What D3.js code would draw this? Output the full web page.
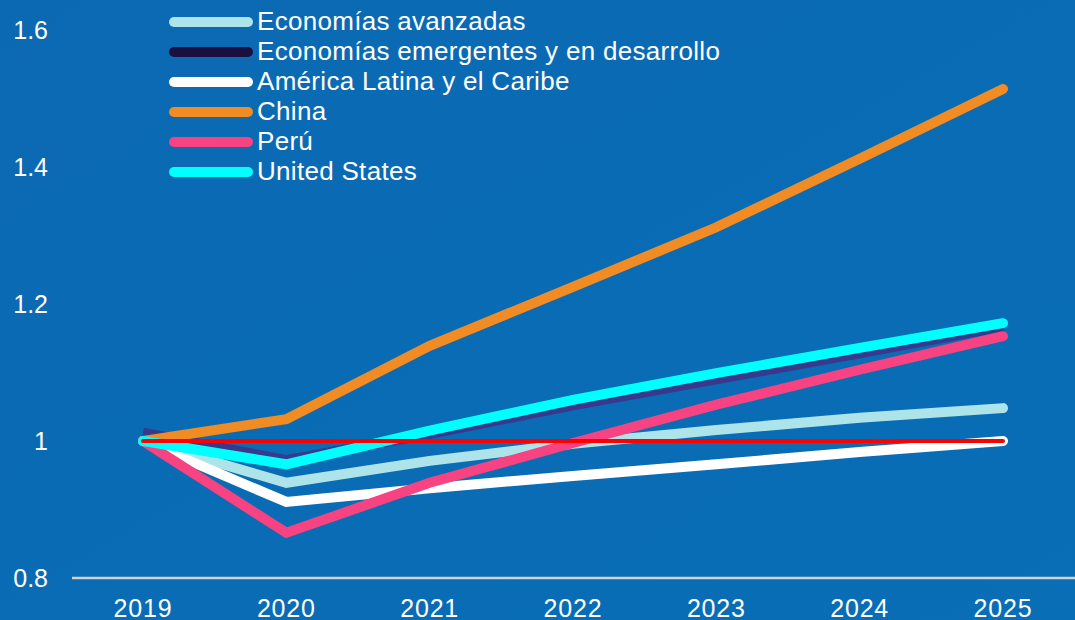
<!DOCTYPE html>
<html>
<head>
<meta charset="utf-8">
<script src="https://cdn.jsdelivr.net/npm/d3@7"></script>
<style>
  body { margin: 0; background: #0a6bb3; }
  svg { display: block; font-family: "Liberation Sans", Arial, Helvetica, sans-serif; }
</style>
</head>
<body>
<div id="chart"></div>
<script>
/* datos del grafico */
var years = ["2019", "2020", "2021", "2022", "2023", "2024", "2025"];
var yTicks = [0.8, 1, 1.2, 1.4, 1.6];

var avanzadas  = [1.000, 0.939, 0.971, 0.996, 1.016, 1.034, 1.048];
var emergentes = [1.012, 0.972, 1.010, 1.052, 1.090, 1.128, 1.167];
var latam      = [1.000, 0.911, 0.931, 0.949, 0.966, 0.984, 1.000];
var china      = [1.000, 1.032, 1.139, 1.225, 1.312, 1.412, 1.514];
var peru       = [1.000, 0.866, 0.939, 0.997, 1.053, 1.104, 1.153];
var usa        = [1.000, 0.966, 1.015, 1.060, 1.099, 1.136, 1.172];
var base       = [1, 1, 1, 1, 1, 1, 1];

var seriesNames = ["Economías avanzadas", "Economías emergentes y en desarrollo",
                   "América Latina y el Caribe", "China", "Perú", "United States"];
var seriesValues = [avanzadas, emergentes, latam, china, peru, usa];
var legendColors = ["#ade4ea", "#1a1040", "#ffffff", "#f08c23", "#f74382", "#00ffff"];
var lineColors   = ["#ade4ea", "#38388c", "#ffffff", "#f08c23", "#f74382", "#00ffff"];

var width = 1075, height = 620;

var svg = d3.select("#chart").append("svg")
    .attr("width", width).attr("height", height);

/* fondo con un degradado suave */
var grad = svg.append("defs").append("linearGradient")
    .attr("id", "bg").attr("x1", "0%").attr("y1", "0%").attr("x2", "100%").attr("y2", "100%");
grad.append("stop").attr("offset", "0%").attr("stop-color", "#0b69b2");
grad.append("stop").attr("offset", "100%").attr("stop-color", "#086eb6");
svg.append("rect").attr("width", width).attr("height", height).attr("fill", "url(#bg)");

var x = d3.scalePoint().domain(years).range([143, 1003]);
var y = d3.scaleLinear().domain([0.8, 1.6]).range([578, 30]);

/* eje y: solo etiquetas */
svg.selectAll(".ylab").data(yTicks).enter().append("text")
    .attr("class", "ylab")
    .attr("x", 48)
    .attr("y", function(d){ return y(d); })
    .attr("dy", "0.35em")
    .attr("text-anchor", "end")
    .attr("fill", "#ffffff")
    .attr("font-size", 25)
    .text(function(d){ return d3.format("~g")(d); });

/* eje x */
svg.append("line")
    .attr("x1", 72).attr("x2", width)
    .attr("y1", y(0.8)).attr("y2", y(0.8))
    .attr("stroke", "#d2d2d2").attr("stroke-width", 2.5);

svg.selectAll(".xlab").data(years).enter().append("text")
    .attr("class", "xlab")
    .attr("x", function(d){ return x(d); })
    .attr("y", 617)
    .attr("text-anchor", "middle")
    .attr("fill", "#ffffff")
    .attr("font-size", 25)
    .attr("letter-spacing", 0.8)
    .text(function(d){ return d; });

var line = d3.line()
    .x(function(d, i){ return x(years[i]); })
    .y(function(d){ return y(d); });

/* lineas de las series */
svg.selectAll(".serie").data(seriesValues).enter().append("path")
    .attr("class", "serie")
    .attr("d", function(d){ return line(d); })
    .attr("fill", "none")
    .attr("stroke", function(d, i){ return lineColors[i]; })
    .attr("stroke-width", 10)
    .attr("stroke-linejoin", "miter")
    .attr("stroke-linecap", function(d, i){ return i == 1 ? "butt" : "round"; });

/* linea de referencia en 1 */
svg.append("path")
    .attr("d", line(base))
    .attr("fill", "none")
    .attr("stroke", "#ff0000")
    .attr("stroke-width", 4)
    .attr("stroke-linecap", "round");

/* leyenda */
var leg = svg.selectAll(".leg").data(seriesNames).enter().append("g")
    .attr("class", "leg")
    .attr("transform", function(d, i){ return "translate(0," + (21 + i * 30) + ")"; });

leg.append("line")
    .attr("x1", 174).attr("x2", 248)
    .attr("y1", 1).attr("y2", 1)
    .attr("stroke", function(d, i){ return legendColors[i]; })
    .attr("stroke-width", 10)
    .attr("stroke-linecap", "round");

leg.append("text")
    .attr("x", 257)
    .attr("dy", "0.35em")
    .attr("fill", "#ffffff")
    .attr("font-size", 26)
    .attr("letter-spacing", 0.3)
    .text(function(d){ return d; });
</script>
</body>
</html>
